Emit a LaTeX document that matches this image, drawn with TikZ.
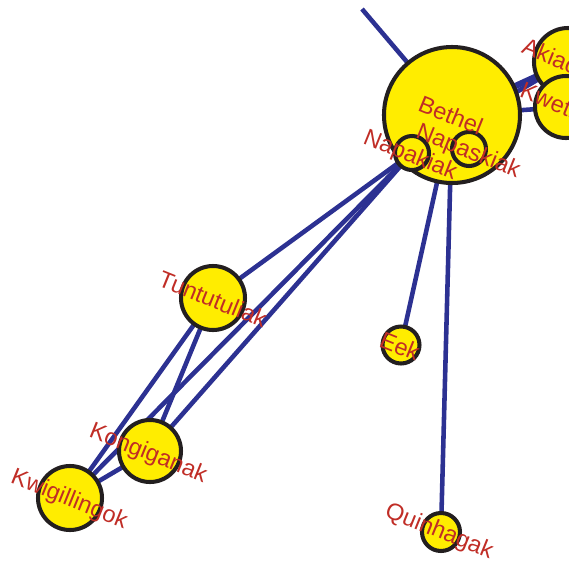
\documentclass[tikz,border=0pt]{standalone}
\usepackage{fontspec}
\setmainfont{Liberation Sans}
\usepackage{tikz}
\usetikzlibrary{backgrounds}

\definecolor{townfill}{RGB}{255,237,0}
\definecolor{linkblue}{RGB}{44,49,146}
\definecolor{namered}{RGB}{192,45,38}
\definecolor{rimdark}{RGB}{35,31,32}

\begin{document}
\begin{tikzpicture}[
  x=0.02cm, y=-0.02cm,
  town/.style={circle, fill=townfill, draw=rimdark, line width=2.3pt,
               inner sep=0pt, minimum size=#1*0.02cm},
  link/.style={draw=linkblue, line width=2.6pt},
  heavylink/.style={draw=linkblue, line width=3.6pt},
  townname/.style={text=namered, font=\fontsize{13.4}{15}\selectfont,
                   rotate=-22, inner sep=0pt},
]
\useasboundingbox (0,0) rectangle (569,562);

% --- towns (hub first, the small ones sit on top of it)
\node[town=136] (bethel) at (452,115) {};
\node[town=34] (napakiak) at (412,153) {};
\node[town=34] (napaskiak) at (469,149) {};
\node[town=68] (akiachak) at (568,62) {};
\node[town=62] (kwethluk) at (566,107) {};
\node[town=64] (tuntutuliak) at (213,298) {};
\node[town=37] (eek) at (401,345) {};
\node[town=62] (kongiganak) at (150,451) {};
\node[town=64] (kwigillingok) at (70,498) {};
\node[town=38] (quinhagak) at (441,532) {};
\coordinate (offmap) at (362,9);

% --- links, kept under the circles
\begin{pgfonlayer}{background}
  \draw[link] (offmap) -- (bethel.center);
  \draw[heavylink] (bethel.center) -- (akiachak.center);
  \draw[link] (napakiak.center) -- (akiachak.center);
  \draw[link] (bethel.center) -- (kwethluk.center);
  \draw[link] (bethel.center) -- (eek.center);
  \draw[link] (bethel.center) -- (quinhagak.center);
  \draw[link] (napakiak.center) -- (tuntutuliak.center);
  \draw[link] (napakiak.center) -- (kongiganak.center);
  \draw[link] (napakiak.center) -- (kwigillingok.center);
  \draw[link] (tuntutuliak.center) -- (kongiganak.center);
  \draw[link] (tuntutuliak.center) -- (kwigillingok.center);
  \draw[link] (kongiganak.center) -- (kwigillingok.center);
\end{pgfonlayer}

% --- names on top of everything
\node[townname] (bethel-t) at (451,115) {Bethel};
\node[townname] (napakiak-t) at (410,156) {Napakiak};
\node[townname] (napaskiak-t) at (468,152) {Napaskiak};
\node[townname] (akiachak-t) at (568,63) {Akiachak};
\node[townname] (kwethluk-t) at (566,107) {Kwethluk};
\node[townname] (tuntutuliak-t) at (213,299) {Tuntutuliak};
\node[townname] (eek-t) at (400,346) {Eek};
\node[townname] (kongiganak-t) at (148,454) {Kongiganak};
\node[townname] (kwigillingok-t) at (69,500) {Kwigillingok};
\node[townname] (quinhagak-t) at (439,532) {Quinhagak};

\end{tikzpicture}
\end{document}
